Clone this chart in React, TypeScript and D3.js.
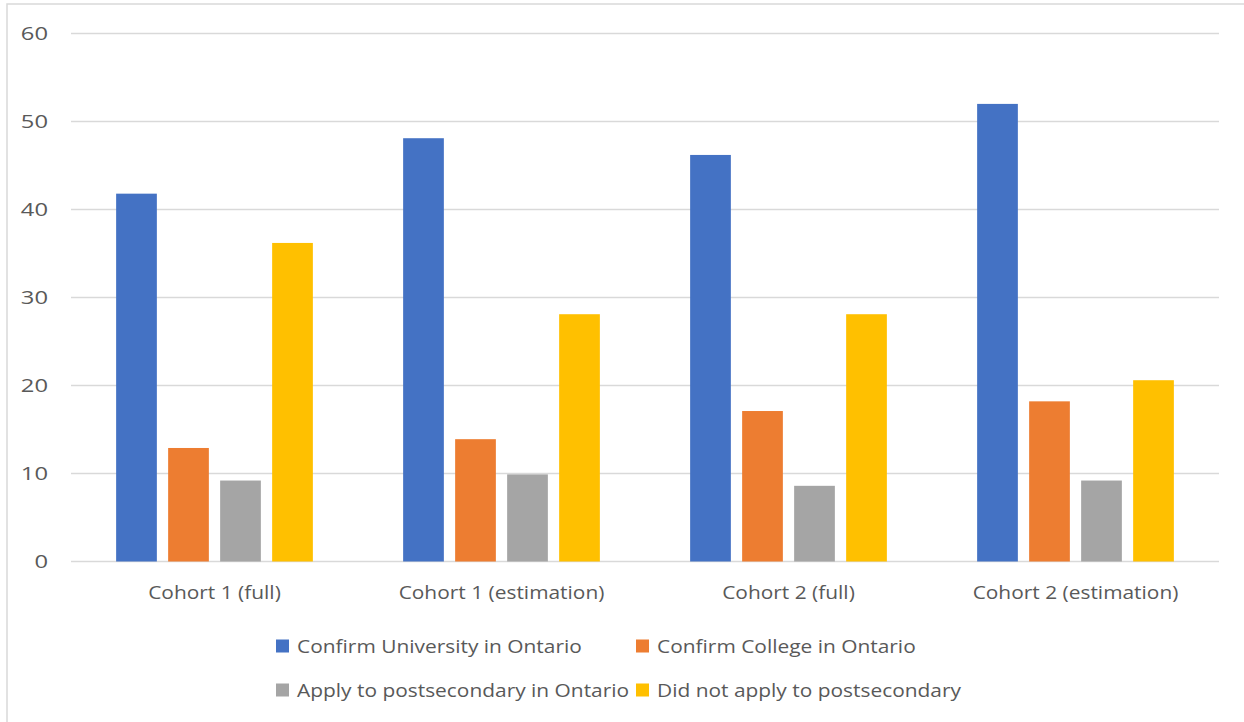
import React from "react";
import * as d3 from "d3";

const categories = ["Cohort 1 (full)", "Cohort 1 (estimation)", "Cohort 2 (full)", "Cohort 2 (estimation)"];
const seriesNames = [
  "Confirm University in Ontario",
  "Confirm College in Ontario",
  "Apply to postsecondary in Ontario",
  "Did not apply to postsecondary",
];
const universityValues = [41.8, 48.1, 46.2, 52.0];
const collegeValues = [12.9, 13.9, 17.1, 18.2];
const applyValues = [9.2, 9.9, 8.6, 9.2];
const notApplyValues = [36.2, 28.1, 28.1, 20.6];
const yTicks = [0, 10, 20, 30, 40, 50, 60];
const colors = ["#4472C4", "#ED7D31", "#A5A5A5", "#FFC000"];

const W = 1244;
const H = 722;
const left = 71;
const right = 1219;
const top = 33.5;
const bottom = 561.5;
const FONT = "'Open Sans', sans-serif";
const TXT = "#595959";
const FS = 19;
const SX = 1.1;
const SX_NUM = 1.25;

export default function App() {
  const seriesValues = [universityValues, collegeValues, applyValues, notApplyValues];
  const x0 = d3.scaleBand<string>().domain(categories).range([left, right]).padding(0);
  const x1 = d3
    .scaleBand<string>()
    .domain(seriesNames)
    .range([0, x0.bandwidth()])
    .paddingInner(0.217)
    .paddingOuter(0.868);
  const y = d3.scaleLinear().domain([0, 60]).range([bottom, top]);

  const legendItems = [
    { name: seriesNames[0], x: 276, y: 646, c: colors[0] },
    { name: seriesNames[1], x: 636, y: 646, c: colors[1] },
    { name: seriesNames[2], x: 276, y: 690, c: colors[2] },
    { name: seriesNames[3], x: 636, y: 690, c: colors[3] },
  ];

  return (
    <svg
      width={W}
      height={H}
      style={{ position: "absolute", left: 0, top: 0, background: "#fff" }}
      fontFamily={FONT}
    >
      <rect x={0} y={0} width={W} height={H} fill="#fff" />
      <rect x={7} y={4} width={W} height={H} fill="none" stroke="#D9D9D9" strokeWidth={1.5} />
      {yTicks.map((t) => (
        <g key={t}>
          <line x1={left} x2={right} y1={y(t)} y2={y(t)} stroke="#D9D9D9" strokeWidth={1.5} />
          <text
            transform={`translate(48,${y(t)}) scale(${SX_NUM},1)`}
            dy="0.35em"
            textAnchor="end"
            fontSize={FS}
            fill={TXT}
          >
            {t}
          </text>
        </g>
      ))}
      {categories.map((cat, ci) => (
        <g key={cat}>
          {seriesNames.map((s, si) => {
            const v = seriesValues[si][ci];
            return (
              <rect
                key={s}
                x={(x0(cat) as number) + (x1(s) as number)}
                y={y(v)}
                width={x1.bandwidth()}
                height={y(0) - y(v)}
                fill={colors[si]}
              />
            );
          })}
          <text
            transform={`translate(${(x0(cat) as number) + x0.bandwidth() / 2},592) scale(${SX},1)`}
            dy="0.35em"
            textAnchor="middle"
            fontSize={FS}
            fill={TXT}
          >
            {cat}
          </text>
        </g>
      ))}
      {legendItems.map((it) => (
        <g key={it.name}>
          <rect x={it.x} y={it.y - 6.5} width={13} height={13} fill={it.c} />
          <text
            transform={`translate(${it.x + 21},${it.y}) scale(${SX},1)`}
            dy="0.35em"
            fontSize={FS}
            fill={TXT}
          >
            {it.name}
          </text>
        </g>
      ))}
    </svg>
  );
}
